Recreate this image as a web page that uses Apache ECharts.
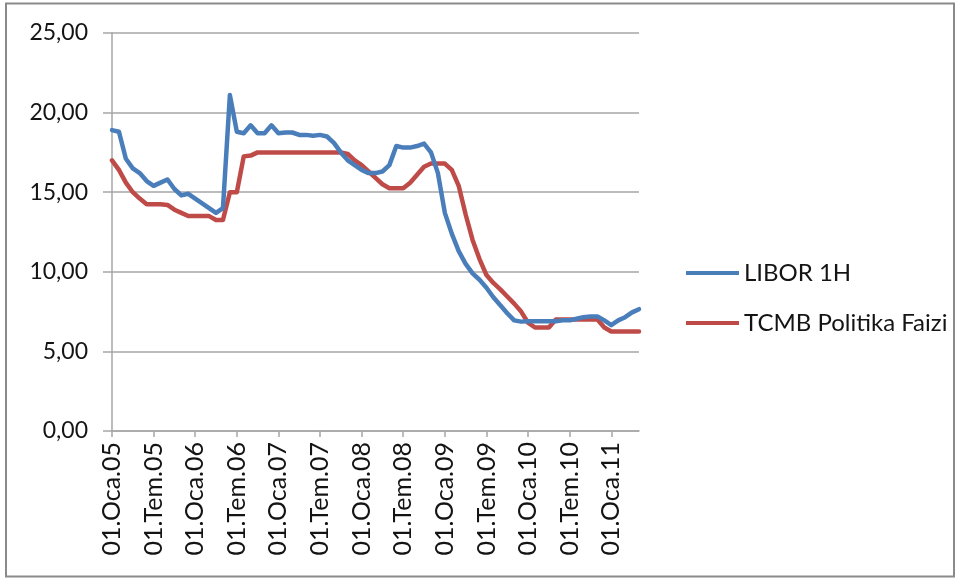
<!DOCTYPE html>
<html>
<head>
<meta charset="utf-8">
<script src="https://cdn.jsdelivr.net/npm/echarts@6/dist/echarts.min.js"></script>
<style>
  html, body { margin: 0; padding: 0; background: #ffffff; }
  #chart { width: 958px; height: 580px; }
</style>
</head>
<body>
<div id="chart"></div>
<script>
// Monthly observations, January 2005 – May 2011
const monthNames = ['Oca', 'Şub', 'Mar', 'Nis', 'May', 'Haz', 'Tem', 'Ağu', 'Eyl', 'Eki', 'Kas', 'Ara'];
const years = ['05', '06', '07', '08', '09', '10', '11'];
const monthCount = 77;

const libor1h = [
  18.9, 18.8, 17.1, 16.5, 16.2, 15.7, 15.4, 15.6, 15.8, 15.2, 14.8, 14.9,
  14.6, 14.3, 14.0, 13.7, 14.0, 21.1, 18.8, 18.7, 19.2, 18.7, 18.7, 19.2,
  18.7, 18.75, 18.75, 18.6, 18.6, 18.55, 18.6, 18.5, 18.1, 17.5, 17.0, 16.7,
  16.4, 16.2, 16.2, 16.3, 16.7, 17.9, 17.8, 17.8, 17.9, 18.05, 17.5, 16.2,
  13.7, 12.4, 11.3, 10.5, 9.9, 9.5, 9.0, 8.4, 7.9, 7.4, 6.95, 6.87,
  6.9, 6.9, 6.9, 6.9, 6.9, 6.95, 6.95, 7.05, 7.15, 7.2, 7.2, 6.95,
  6.65, 6.95, 7.15, 7.45, 7.65
];

const tcmbPolitikaFaizi = [
  17.0, 16.4, 15.6, 15.0, 14.6, 14.25, 14.25, 14.25, 14.2, 13.9, 13.7, 13.5,
  13.5, 13.5, 13.5, 13.25, 13.25, 15.0, 15.0, 17.25, 17.3, 17.5, 17.5, 17.5,
  17.5, 17.5, 17.5, 17.5, 17.5, 17.5, 17.5, 17.5, 17.5, 17.5, 17.4, 17.0,
  16.7, 16.3, 15.9, 15.5, 15.25, 15.25, 15.25, 15.6, 16.1, 16.6, 16.8, 16.8,
  16.8, 16.4, 15.4, 13.6, 12.0, 10.8, 9.8, 9.3, 8.9, 8.45, 8.0, 7.5,
  6.8, 6.5, 6.5, 6.5, 7.0, 7.0, 7.0, 7.0, 7.0, 7.0, 7.0, 6.5,
  6.25, 6.25, 6.25, 6.25, 6.25
];

const yTicks = [0, 5, 10, 15, 20, 25];

// "01.Oca.05", "01.Şub.05", ...
const categories = [];
for (let i = 0; i < monthCount; i++) {
  categories.push('01.' + monthNames[i % 12] + '.' + years[Math.floor(i / 12)]);
}

const FONT = 'Lato, "Open Sans", sans-serif';
const TEXT = '#141414';
const gridColor = '#a6a6a6';

const chart = echarts.init(document.getElementById('chart'), null, { renderer: 'canvas' });

chart.setOption({
  backgroundColor: '#ffffff',
  animation: false,
  graphic: [{
    type: 'rect',
    shape: { x: 6, y: 3.5, width: 948, height: 573 },
    style: { fill: 'none', stroke: '#8a8a8a', lineWidth: 2 },
    silent: true
  }],
  grid: { left: 112, right: 319, top: 33, bottom: 149 },
  legend: {
    orient: 'vertical',
    left: 681,
    top: 256,
    itemWidth: 53,
    itemHeight: 4,
    itemGap: 26,
    icon: 'rect',
    textStyle: { fontFamily: FONT, fontSize: 24, color: TEXT, lineHeight: 24 },
    data: ['LIBOR 1H', 'TCMB Politika Faizi']
  },
  xAxis: {
    type: 'category',
    data: categories,
    boundaryGap: false,
    axisLine: { show: true, lineStyle: { color: gridColor, width: 1.5 } },
    axisTick: { show: true, interval: 5, length: 6, lineStyle: { color: gridColor, width: 1.5 } },
    axisLabel: {
      interval: 5,
      rotate: 90,
      margin: 11,
      fontFamily: FONT,
      fontSize: 25,
      color: TEXT
    },
    splitLine: { show: false }
  },
  yAxis: {
    type: 'value',
    min: yTicks[0],
    max: yTicks[yTicks.length - 1],
    interval: 5,
    axisLine: { show: true, lineStyle: { color: gridColor, width: 1.5 } },
    axisTick: { show: true, length: 9, lineStyle: { color: gridColor, width: 1.5 } },
    axisLabel: {
      margin: 24,
      fontFamily: FONT,
      fontSize: 23,
      color: TEXT,
      formatter: v => v.toFixed(2).replace('.', ',')
    },
    splitLine: { show: true, lineStyle: { color: gridColor, width: 1.5 } }
  },
  series: [
    {
      name: 'LIBOR 1H',
      type: 'line',
      data: libor1h,
      symbol: 'none',
      color: '#4a7ebb',
      lineStyle: { width: 4.5, color: '#4a7ebb', join: 'round', cap: 'round' },
      z: 3
    },
    {
      name: 'TCMB Politika Faizi',
      type: 'line',
      data: tcmbPolitikaFaizi,
      symbol: 'none',
      color: '#be4b48',
      lineStyle: { width: 4.5, color: '#be4b48', join: 'round', cap: 'round' },
      z: 2
    }
  ]
});
</script>
</body>
</html>
